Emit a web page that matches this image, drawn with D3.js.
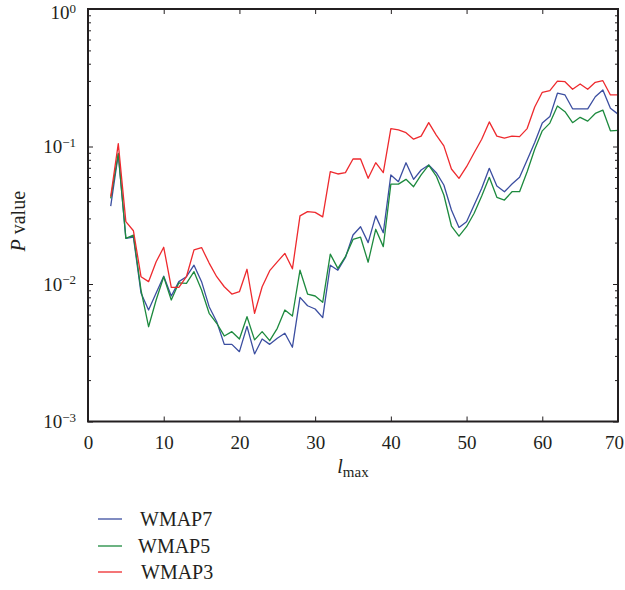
<!DOCTYPE html>
<html>
<head>
<meta charset="utf-8">
<script src="https://cdn.jsdelivr.net/npm/d3@7"></script>
<style>
    body { margin: 0; background: #fff; }
    svg { display: block; }
    svg text { font-family: "Liberation Serif", "Times New Roman", "DejaVu Serif", "Noto Serif", serif; fill: #231f20; }
</style>
</head>
<body>
<div id="chart"></div>
<script>
// Data, l_max = 3..70
const lValues = d3.range(3, 71);

const wmap7 = [
    0.0369, 0.0881, 0.0215, 0.0219, 0.00861, 0.00647, 0.00861, 0.0114, 0.00818, 0.0104,
    0.0113, 0.0137, 0.0104, 0.00684, 0.00532, 0.00364, 0.00364, 0.00322, 0.00492, 0.0031,
    0.00398, 0.00364, 0.00403, 0.00438, 0.00347, 0.0080, 0.00695, 0.00658, 0.00569, 0.0137,
    0.0126, 0.0156, 0.0227, 0.0261, 0.0200, 0.0313, 0.0236, 0.0621, 0.0555, 0.0762,
    0.0577, 0.0675, 0.0733, 0.0645, 0.0525, 0.0345, 0.0258, 0.0284, 0.0376, 0.0497,
    0.0694, 0.0516, 0.0469, 0.0533, 0.0597, 0.0798, 0.107, 0.148, 0.165, 0.244,
    0.237, 0.188, 0.188, 0.188, 0.230, 0.258, 0.190, 0.172
];

const wmap5 = [
    0.0420, 0.0891, 0.0215, 0.0227, 0.00904, 0.00489, 0.00765, 0.0113, 0.00765, 0.0102,
    0.0101, 0.0123, 0.00904, 0.00612, 0.00518, 0.00419, 0.0045, 0.00398, 0.00578, 0.00392,
    0.0045, 0.00387, 0.00476, 0.00647, 0.00585, 0.0126, 0.00845, 0.00818, 0.00736, 0.0165,
    0.0130, 0.0158, 0.0211, 0.0219, 0.0144, 0.0250, 0.0187, 0.0533, 0.0533, 0.0577,
    0.0510, 0.0621, 0.0733, 0.0610, 0.0444, 0.0264, 0.0223, 0.0261, 0.0327, 0.0436,
    0.0597, 0.0427, 0.0408, 0.0469, 0.0469, 0.0656, 0.0954, 0.130, 0.148, 0.197,
    0.179, 0.149, 0.163, 0.153, 0.174, 0.184, 0.130, 0.131
];

const wmap3 = [
    0.0432, 0.105, 0.0284, 0.0244, 0.0113, 0.0104, 0.0145, 0.0185, 0.00946, 0.00946,
    0.0113, 0.0177, 0.0184, 0.0142, 0.0113, 0.00955, 0.00845, 0.00879, 0.0128, 0.00612,
    0.00955, 0.0125, 0.0145, 0.0167, 0.0129, 0.0313, 0.0336, 0.0332, 0.0308, 0.0656,
    0.0631, 0.0645, 0.0811, 0.0811, 0.0587, 0.0762, 0.0645, 0.135, 0.132, 0.126,
    0.113, 0.119, 0.149, 0.121, 0.101, 0.0686, 0.0587, 0.0713, 0.0901, 0.113,
    0.151, 0.119, 0.115, 0.119, 0.118, 0.135, 0.194, 0.248, 0.255, 0.299,
    0.296, 0.261, 0.285, 0.261, 0.293, 0.301, 0.237, 0.237
];

const seriesNames = ["WMAP7", "WMAP5", "WMAP3"];
const seriesColors = ["#3b4ea0", "#1d8a3e", "#ee2a2e"];
const xTicks = [0, 10, 20, 30, 40, 50, 60, 70];
const yTicks = [1, 0.1, 0.01, 0.001];
const yExponents = ["0", "\u22121", "\u22122", "\u22123"];

// Layout
const WIDTH = 625;
const HEIGHT = 590;
const FONT = '"Liberation Serif", "Times New Roman", "DejaVu Serif", serif';
const plot = { left: 88, right: 618, top: 9, bottom: 421.5 };

const svg = d3.select("#chart")
    .append("svg")
    .attr("width", WIDTH)
    .attr("height", HEIGHT)
    .attr("font-family", FONT);

const x = d3.scaleLinear().domain([0, 70]).range([plot.left, plot.right]);
const y = d3.scaleLog().domain([0.001, 1]).range([plot.bottom, plot.top]);

// minor tick values for the log axis
const minorTicks = [];
[0.001, 0.01, 0.1].forEach(d => {
    for (let k = 2; k <= 9; k++) minorTicks.push(d * k);
});

/**
 * Draws axes with inward ticks
 */
function drawAxes() {
    const xAxis = d3.axisBottom(x).tickValues(xTicks).tickSizeInner(-5).tickSizeOuter(0).tickPadding(14);
    const gx = svg.append("g")
        .attr("transform", `translate(0,${plot.bottom})`)
        .attr("font-family", FONT)
        .call(xAxis);
    gx.attr("font-family", FONT);
    gx.selectAll("text").style("font-size", "19px");
    // keep the last label inside the window
    gx.selectAll(".tick text").filter(d => d === 70).attr("dx", "-4");

    svg.append("g")
        .attr("transform", `translate(0,${plot.top})`)
        .call(d3.axisTop(x).tickValues(xTicks).tickSizeInner(-5).tickSizeOuter(0).tickFormat(""));

    const gy = svg.append("g")
        .attr("transform", `translate(${plot.left},0)`)
        .call(d3.axisLeft(y).tickValues(yTicks).tickSizeInner(-5).tickSizeOuter(0).tickPadding(12)
            .tickFormat(""));
    gy.attr("font-family", FONT);

    gy.selectAll(".tick text").each(function (d, i) {
        const t = d3.select(this).style("font-size", "19px").attr("dy", "0.34em");
        t.append("tspan").text("10");
        t.append("tspan").attr("dy", "-0.5em").style("font-size", "13px").text(yExponents[i]);
    });
    // top label sits right at the window edge
    gy.selectAll(".tick text").filter(d => d === 1).attr("dy", "0.5em");

    svg.append("g")
        .attr("transform", `translate(${plot.left},0)`)
        .call(d3.axisLeft(y).tickValues(minorTicks).tickSizeInner(-3).tickSizeOuter(0).tickFormat(""));

    svg.append("g")
        .attr("transform", `translate(${plot.right},0)`)
        .call(d3.axisRight(y).tickValues(yTicks).tickSizeInner(-5).tickSizeOuter(0).tickFormat(""));

    svg.append("g")
        .attr("transform", `translate(${plot.right},0)`)
        .call(d3.axisRight(y).tickValues(minorTicks).tickSizeInner(-3).tickSizeOuter(0).tickFormat(""));

    svg.selectAll(".domain").remove();
    svg.selectAll(".tick line").attr("stroke", "#231f20").attr("stroke-width", 1);

    // frame
    svg.append("rect")
        .attr("x", plot.left)
        .attr("y", plot.top)
        .attr("width", plot.right - plot.left)
        .attr("height", plot.bottom - plot.top)
        .attr("fill", "none")
        .attr("stroke", "#231f20")
        .attr("stroke-width", 2);

    // axis titles
    const yl = svg.append("text")
        .attr("transform", `translate(25,${(plot.top + plot.bottom) / 2 + 6}) rotate(-90)`)
        .attr("text-anchor", "middle")
        .style("font-size", "20px");
    yl.append("tspan").style("font-style", "italic").text("P");
    yl.append("tspan").text(" value");

    const xl = svg.append("text")
        .attr("x", (plot.left + plot.right) / 2)
        .attr("y", 473)
        .attr("text-anchor", "middle")
        .style("font-size", "20px");
    xl.append("tspan").style("font-style", "italic").text("l");
    xl.append("tspan").attr("dy", "4").style("font-size", "15px").text("max");
}

/**
 * Draws the three series
 */
function drawLines() {
    const line = d3.line()
        .x((d, i) => x(lValues[i]))
        .y(d => y(d));

    [wmap7, wmap5, wmap3].forEach((series, i) => {
        svg.append("path")
            .datum(series)
            .attr("fill", "none")
            .attr("stroke", seriesColors[i])
            .attr("stroke-width", 1.3)
            .attr("stroke-linejoin", "round")
            .attr("d", line);
    });
}

/**
 * Legend below the plot
 */
function drawLegend() {
    const rows = [
        { y: 519, textX: 140 },
        { y: 546, textX: 138 },
        { y: 572, textX: 141 }
    ];
    seriesNames.forEach((name, i) => {
        svg.append("line")
            .attr("x1", 98).attr("x2", 122)
            .attr("y1", rows[i].y).attr("y2", rows[i].y)
            .attr("stroke", seriesColors[i])
            .attr("stroke-width", 1.3);
        svg.append("text")
            .attr("x", rows[i].textX)
            .attr("y", rows[i].y + 7)
            .style("font-size", "20px")
            .text(name);
    });
}

drawLines();
drawAxes();
drawLegend();
</script>
</body>
</html>
